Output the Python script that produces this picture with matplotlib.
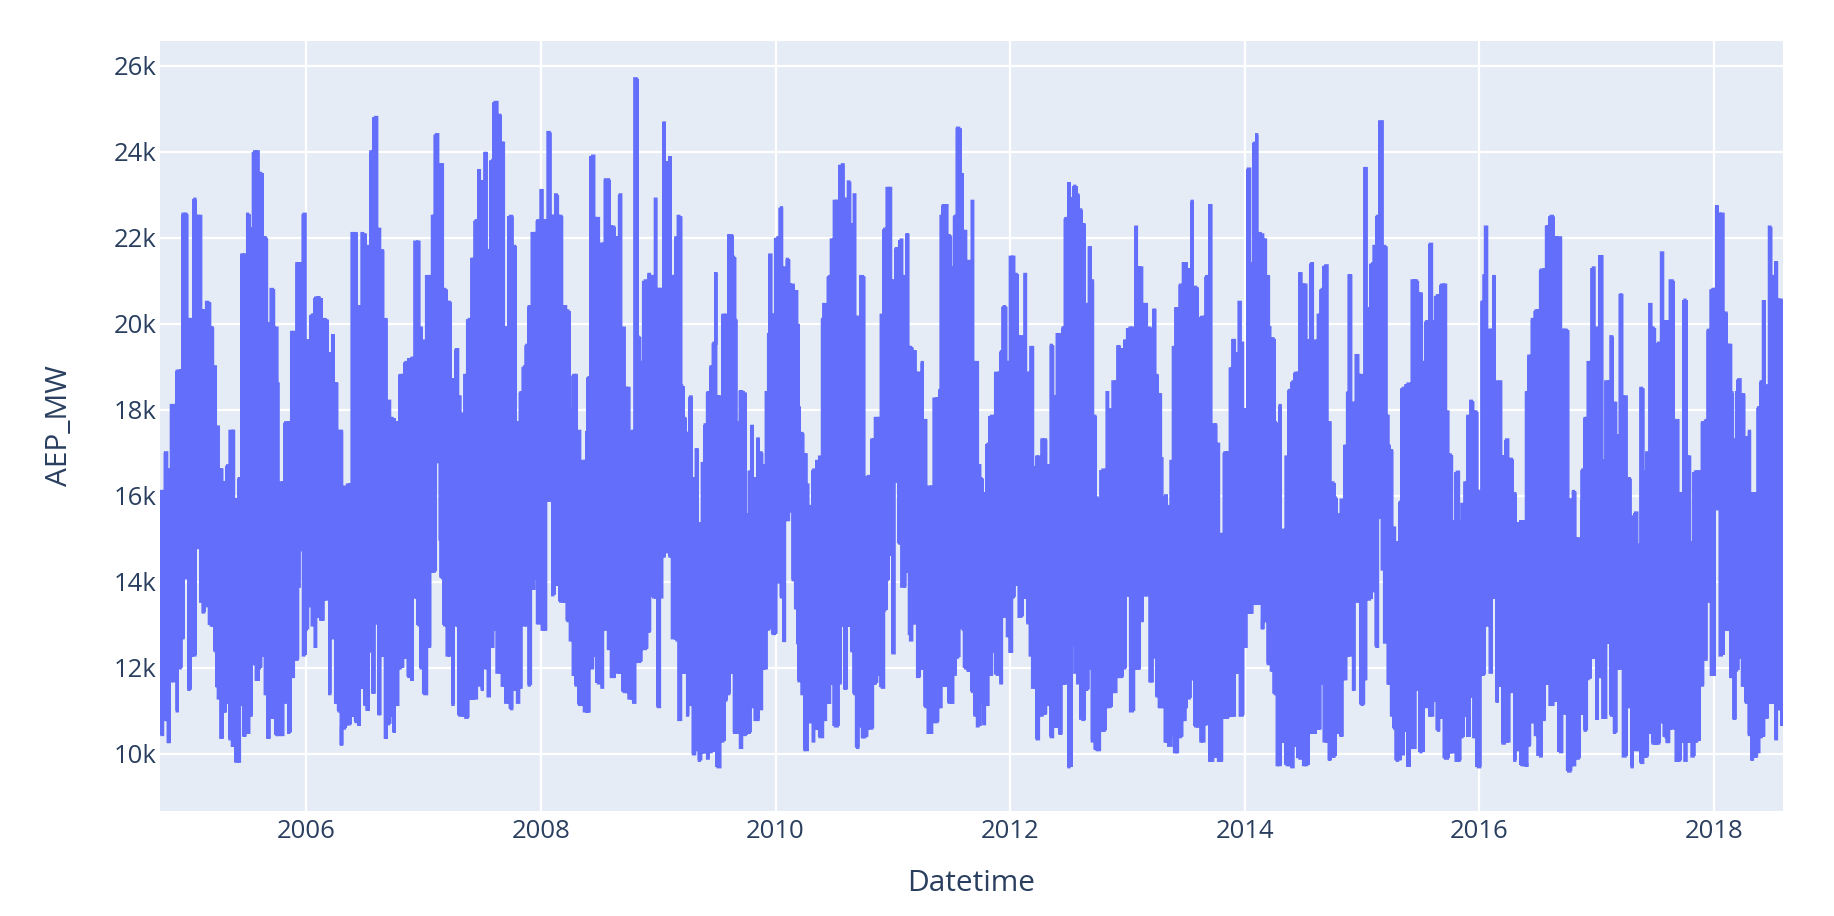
import numpy as np
import matplotlib
matplotlib.use("Agg")
import matplotlib.pyplot as plt
import matplotlib.dates as mdates
from matplotlib.ticker import FuncFormatter

plt.rcParams['font.family'] = ['Open Sans', 'DejaVu Sans']
plt.rcParams['path.simplify'] = False

# Upper edge of the hourly load: (decimal year, thousand MW)
top_2004_2008 = [(2004.77,16.1),(2004.80,17.0),(2004.83,16.6),(2004.87,18.1),(2004.92,18.9),(2004.97,22.55),(2005.01,20.1),(2005.05,22.9),(2005.08,22.5),(2005.12,20.3),(2005.16,20.5),(2005.20,19.9),(2005.22,19.0),(2005.24,17.6),(2005.27,16.6),(2005.30,16.3),(2005.33,16.7),(2005.37,17.5),(2005.40,15.9),(2005.43,16.4),(2005.46,21.6),(2005.50,22.55),(2005.53,22.2),(2005.57,24.0),(2005.61,23.5),(2005.65,22.0),(2005.67,20.0),(2005.71,20.8),(2005.74,19.9),(2005.76,18.6),(2005.79,16.3),(2005.82,17.7),(2005.86,17.7),(2005.89,19.8),(2005.94,21.4),(2005.98,22.55),(2006.01,19.6),(2006.05,20.2),(2006.10,20.6),(2006.16,20.1),(2006.20,19.3),(2006.23,19.75),(2006.25,18.6),(2006.28,17.5),(2006.33,16.2),(2006.36,16.25),(2006.42,22.1),(2006.45,20.4),(2006.48,22.1),(2006.52,21.8),(2006.55,24.0),(2006.59,24.8),(2006.62,22.2),(2006.65,21.7),(2006.68,20.1),(2006.71,18.2),(2006.73,17.8),(2006.77,17.7),(2006.82,18.8),(2006.85,19.1),(2006.90,19.2),(2006.94,21.9),(2006.98,19.9),(2007.01,19.6),(2007.04,21.1),(2007.08,22.5),(2007.11,24.4),(2007.14,23.7),(2007.18,20.8),(2007.22,20.5),(2007.25,18.7),(2007.28,19.4),(2007.31,18.3),(2007.34,17.9),(2007.36,18.8),(2007.39,20.1),(2007.42,21.5),(2007.44,22.4),(2007.47,23.6),(2007.50,23.3),(2007.53,24.0),(2007.56,21.7),(2007.59,23.8),(2007.61,25.15),(2007.65,24.85),(2007.67,24.2),(2007.70,19.9),(2007.74,22.5),(2007.78,21.8),(2007.81,17.7),(2007.83,18.4),(2007.86,19.0),(2007.88,19.5),(2007.91,20.4),(2007.94,22.1),(2007.97,22.4),(2008.01,23.1),(2008.04,22.4),(2008.07,24.45),(2008.10,22.5),(2008.13,23.0),(2008.16,22.5),(2008.20,20.4)]
top_2008_2011 = [(2008.23,20.3),(2008.26,18.0),(2008.29,18.8),(2008.33,17.5),(2008.37,16.8),(2008.39,17.5),(2008.41,18.75),(2008.44,23.9),(2008.47,22.45),(2008.52,21.85),(2008.55,23.35),(2008.61,22.25),(2008.65,22.0),(2008.68,23.0),(2008.71,19.9),(2008.74,18.5),(2008.77,17.35),(2008.78,17.5),(2008.81,25.7),(2008.84,19.7),(2008.86,19.1),(2008.89,21.0),(2008.92,21.15),(2008.95,21.1),(2008.98,22.9),(2009.01,20.8),(2009.05,24.7),(2009.07,23.75),(2009.10,23.9),(2009.13,21.1),(2009.15,22.0),(2009.17,22.5),(2009.21,18.55),(2009.23,17.8),(2009.25,17.45),(2009.27,18.3),(2009.30,16.4),(2009.33,17.1),(2009.35,15.35),(2009.38,16.75),(2009.40,17.65),(2009.42,18.4),(2009.45,19.0),(2009.47,19.55),(2009.49,21.2),(2009.51,18.3),(2009.56,20.2),(2009.62,22.05),(2009.64,21.55),(2009.66,20.1),(2009.68,17.7),(2009.71,18.45),(2009.74,18.4),(2009.76,15.55),(2009.78,16.55),(2009.80,17.65),(2009.83,16.4),(2009.85,17.35),(2009.88,17.0),(2009.90,16.7),(2009.92,18.4),(2009.94,19.75),(2009.95,21.6),(2009.98,20.2),(2010.02,22.0),(2010.04,22.7),(2010.07,21.3),(2010.10,21.5),(2010.15,20.9),(2010.18,20.75),(2010.19,20.0),(2010.20,18.05),(2010.23,17.45),(2010.25,16.95),(2010.27,16.25),(2010.30,15.75),(2010.32,16.6),(2010.35,16.8),(2010.38,16.9),(2010.40,20.1),(2010.41,20.45),(2010.44,20.2),(2010.46,21.1),(2010.48,21.95),(2010.51,22.85),(2010.53,22.85),(2010.57,23.7),(2010.59,22.9),(2010.62,23.3),(2010.64,22.3),(2010.67,23.0),(2010.70,20.15),(2010.74,21.1),(2010.76,15.75),(2010.79,16.45),(2010.84,17.3),(2010.86,17.8),(2010.92,20.2),(2010.93,22.2),(2010.96,23.15),(2011.00,21.0),(2011.01,20.85),(2011.04,21.75),(2011.07,21.95),(2011.10,21.1),(2011.12,22.1),(2011.15,19.45),(2011.18,19.35),(2011.21,18.85),(2011.25,19.1),(2011.28,17.75),(2011.29,16.2),(2011.33,16.2),(2011.37,18.25),(2011.40,18.45),(2011.41,22.5),(2011.44,22.75),(2011.48,22.05),(2011.51,21.3),(2011.53,22.5),(2011.56,24.55),(2011.59,23.5),(2011.61,22.15),(2011.64,21.45),(2011.68,22.85)]
top_2011_2015 = [(2011.71,19.1),(2011.74,16.7),(2011.75,16.4),(2011.78,16.05),(2011.81,17.2),(2011.84,17.85),(2011.86,17.5),(2011.89,18.85),(2011.92,19.35),(2011.95,20.4),(2011.98,19.1),(2012.01,21.55),(2012.05,21.15),(2012.09,19.7),(2012.13,21.15),(2012.16,18.85),(2012.19,19.45),(2012.21,16.65),(2012.24,16.9),(2012.29,17.3),(2012.32,16.7),(2012.35,19.5),(2012.38,18.3),(2012.41,19.75),(2012.45,19.9),(2012.47,22.45),(2012.50,23.3),(2012.52,22.9),(2012.55,23.2),(2012.58,23.0),(2012.60,22.65),(2012.63,22.3),(2012.64,19.8),(2012.66,20.45),(2012.68,21.8),(2012.70,21.0),(2012.72,17.85),(2012.74,15.95),(2012.76,15.9),(2012.79,16.6),(2012.81,15.9),(2012.83,18.4),(2012.86,18.0),(2012.89,18.65),(2012.92,19.5),(2012.95,19.4),(2012.98,19.6),(2013.02,19.9),(2013.04,19.9),(2013.07,22.25),(2013.10,21.3),(2013.14,20.45),(2013.19,19.9),(2013.21,19.7),(2013.23,20.35),(2013.25,18.8),(2013.27,18.35),(2013.29,16.9),(2013.30,15.95),(2013.32,16.0),(2013.35,15.75),(2013.37,16.8),(2013.39,19.45),(2013.42,20.35),(2013.46,20.9),(2013.49,21.4),(2013.52,21.25),(2013.55,22.85),(2013.58,20.85),(2013.61,19.2),(2013.63,20.15),(2013.65,20.15),(2013.67,21.1),(2013.70,22.75),(2013.74,17.65),(2013.77,17.2),(2013.80,15.1),(2013.83,17.0),(2013.86,17.0),(2013.88,18.95),(2013.91,19.65),(2013.94,19.3),(2013.96,20.5),(2013.98,19.55),(2014.00,18.0),(2014.03,23.6),(2014.05,21.4),(2014.08,24.2),(2014.10,24.4),(2014.13,22.1),(2014.17,21.95),(2014.20,21.1),(2014.21,19.95),(2014.24,19.65),(2014.27,17.7),(2014.28,15.9),(2014.30,18.1),(2014.33,15.2),(2014.36,16.9),(2014.38,18.45),(2014.41,18.65),(2014.44,18.85),(2014.47,21.2),(2014.51,20.9),(2014.54,19.6),(2014.57,21.4),(2014.60,19.6),(2014.64,20.2),(2014.66,20.8),(2014.69,21.35),(2014.72,17.7),(2014.75,16.3),(2014.77,15.95),(2014.80,15.55),(2014.82,15.9),(2014.85,17.15),(2014.88,18.4),(2014.89,21.15),(2014.93,18.15),(2014.96,19.3),(2014.99,18.8),(2015.01,18.35),(2015.03,23.65),(2015.06,20.35),(2015.09,21.4),(2015.11,21.8),(2015.13,22.5),(2015.15,24.7),(2015.19,21.8),(2015.22,17.85)]
top_2015_2018 = [(2015.23,17.15),(2015.25,17.05),(2015.27,15.25),(2015.29,14.9),(2015.32,15.85),(2015.35,18.5),(2015.39,18.6),(2015.46,21.0),(2015.49,20.7),(2015.52,19.1),(2015.55,20.05),(2015.58,21.85),(2015.61,20.05),(2015.64,20.65),(2015.69,20.9),(2015.73,17.95),(2015.76,16.95),(2015.78,15.4),(2015.81,16.55),(2015.83,15.4),(2015.86,15.8),(2015.88,16.3),(2015.90,17.85),(2015.93,18.2),(2015.97,17.95),(2016.00,16.1),(2016.02,20.5),(2016.04,21.15),(2016.06,22.25),(2016.09,19.85),(2016.12,21.1),(2016.15,18.65),(2016.18,18.65),(2016.20,16.9),(2016.23,17.3),(2016.27,16.85),(2016.30,16.05),(2016.33,15.35),(2016.37,15.4),(2016.40,18.4),(2016.42,19.25),(2016.46,20.1),(2016.49,20.3),(2016.54,21.25),(2016.57,22.25),(2016.62,22.5),(2016.66,22.0),(2016.74,19.85),(2016.77,15.9),(2016.81,16.1),(2016.84,15.0),(2016.87,15.85),(2016.88,16.6),(2016.90,17.8),(2016.94,19.1),(2016.97,21.3),(2017.00,19.9),(2017.04,21.6),(2017.06,16.8),(2017.09,18.65),(2017.12,19.7),(2017.15,18.15),(2017.18,17.4),(2017.21,20.7),(2017.24,18.3),(2017.28,16.4),(2017.30,15.5),(2017.33,15.6),(2017.36,14.85),(2017.39,18.5),(2017.41,16.55),(2017.43,17.0),(2017.46,20.45),(2017.48,19.9),(2017.50,19.45),(2017.52,19.55),(2017.56,21.65),(2017.59,20.05),(2017.64,21.0),(2017.68,17.75),(2017.71,16.05),(2017.75,20.55),(2017.78,16.9),(2017.81,14.9),(2017.84,16.55),(2017.87,16.55),(2017.90,17.7),(2017.93,17.75),(2017.95,19.85),(2018.00,20.8),(2018.02,22.75),(2018.06,22.55),(2018.10,20.25),(2018.13,19.5),(2018.15,18.4),(2018.17,17.3),(2018.19,18.4),(2018.21,18.7),(2018.24,18.35),(2018.27,17.35),(2018.30,17.5),(2018.32,16.05),(2018.35,16.05),(2018.38,18.05),(2018.40,18.65),(2018.42,20.55),(2018.45,18.55),(2018.47,22.25),(2018.50,21.1),(2018.53,21.45),(2018.57,20.55),(2018.59,20.35)]

# Lower edge of the hourly load: (decimal year, thousand MW)
low_2004_2008 = [(2004.77,10.45),(2004.81,10.8),(2004.83,10.25),(2004.87,11.7),(2004.90,11.0),(2004.93,12.0),(2004.95,12.7),(2004.98,14.1),(2005.00,11.5),(2005.04,12.3),(2005.07,14.8),(2005.10,13.55),(2005.13,13.3),(2005.16,13.45),(2005.19,13.0),(2005.22,12.4),(2005.24,11.55),(2005.26,11.3),(2005.28,10.35),(2005.31,11.0),(2005.33,11.2),(2005.35,10.35),(2005.38,10.2),(2005.41,9.83),(2005.45,11.15),(2005.47,10.4),(2005.51,10.5),(2005.53,10.9),(2005.56,12.1),(2005.59,11.7),(2005.61,12.0),(2005.64,12.3),(2005.66,11.4),(2005.68,10.35),(2005.72,10.85),(2005.75,10.45),(2005.79,10.45),(2005.82,11.2),(2005.85,10.5),(2005.88,11.8),(2005.92,12.2),(2005.94,13.9),(2005.96,14.75),(2005.99,12.3),(2006.01,12.9),(2006.04,13.45),(2006.06,13.0),(2006.08,12.5),(2006.11,13.2),(2006.14,13.1),(2006.16,13.6),(2006.20,11.4),(2006.23,12.7),(2006.26,11.2),(2006.28,11.0),(2006.30,10.2),(2006.33,10.6),(2006.37,10.7),(2006.39,10.9),(2006.42,10.75),(2006.45,10.65),(2006.48,11.55),(2006.50,11.15),(2006.52,11.0),(2006.55,12.4),(2006.57,11.4),(2006.59,13.05),(2006.62,10.9),(2006.65,12.3),(2006.68,10.35),(2006.71,10.7),(2006.73,10.9),(2006.75,10.5),(2006.78,11.15),(2006.80,12.0),(2006.84,12.25),(2006.87,11.8),(2006.90,11.7),(2006.94,13.65),(2006.96,13.0),(2006.98,12.0),(2007.01,11.4),(2007.05,12.5),(2007.09,14.25),(2007.12,16.8),(2007.14,15.0),(2007.16,14.1),(2007.19,13.0),(2007.21,12.3),(2007.25,11.15),(2007.29,13.0),(2007.31,10.9),(2007.34,10.9),(2007.37,10.85),(2007.41,11.3),(2007.44,11.3),(2007.47,11.6),(2007.50,11.5),(2007.53,12.0),(2007.56,11.35),(2007.59,12.5),(2007.61,12.9),(2007.64,11.9),(2007.68,11.6),(2007.71,11.2),(2007.75,11.05),(2007.78,11.5),(2007.81,11.2),(2007.83,11.55),(2007.86,13.0),(2007.90,11.6),(2007.93,13.85),(2007.95,14.1),(2007.98,13.05),(2008.03,12.9),(2008.06,15.9),(2008.11,13.7),(2008.14,13.95),(2008.17,13.55)]
low_2008_2011 = [(2008.21,13.55),(2008.24,13.1),(2008.26,12.65),(2008.28,11.85),(2008.30,11.6),(2008.33,11.15),(2008.40,11.0),(2008.44,12.0),(2008.46,12.3),(2008.49,11.65),(2008.52,11.55),(2008.55,12.9),(2008.58,12.45),(2008.62,11.8),(2008.67,11.9),(2008.73,11.45),(2008.77,11.3),(2008.79,11.2),(2008.82,12.15),(2008.89,12.45),(2008.92,12.85),(2008.94,14.05),(2008.96,13.65),(2009.00,11.1),(2009.03,13.65),(2009.05,14.6),(2009.07,14.7),(2009.10,14.6),(2009.12,12.7),(2009.14,13.95),(2009.16,12.65),(2009.19,10.8),(2009.21,11.9),(2009.25,10.9),(2009.28,11.15),(2009.31,10.0),(2009.33,10.1),(2009.36,9.85),(2009.39,10.05),(2009.42,9.9),(2009.45,10.05),(2009.49,11.15),(2009.51,9.7),(2009.55,10.3),(2009.58,11.25),(2009.60,11.4),(2009.63,11.9),(2009.65,10.5),(2009.68,10.5),(2009.71,10.15),(2009.74,10.45),(2009.77,10.5),(2009.79,11.1),(2009.83,10.8),(2009.88,11.05),(2009.91,12.0),(2009.94,12.9),(2009.96,13.3),(2009.99,12.8),(2010.02,14.0),(2010.03,16.9),(2010.05,13.65),(2010.07,12.6),(2010.11,15.45),(2010.13,15.65),(2010.15,14.05),(2010.17,13.4),(2010.19,12.55),(2010.20,11.7),(2010.23,11.4),(2010.26,10.1),(2010.29,10.75),(2010.32,10.3),(2010.36,10.6),(2010.38,10.4),(2010.42,10.8),(2010.45,11.2),(2010.47,11.65),(2010.51,10.65),(2010.55,11.65),(2010.57,13.0),(2010.59,11.5),(2010.63,13.0),(2010.65,12.4),(2010.67,11.4),(2010.69,10.15),(2010.72,10.65),(2010.75,10.4),(2010.82,10.6),(2010.85,11.65),(2010.88,11.85),(2010.91,11.55),(2010.94,13.35),(2010.96,14.05),(2010.98,14.65),(2011.01,12.35),(2011.03,16.35),(2011.06,14.9),(2011.09,13.9),(2011.12,14.25),(2011.14,12.8),(2011.16,12.65),(2011.19,13.05),(2011.22,11.8),(2011.25,12.0),(2011.28,11.1),(2011.32,10.5),(2011.35,10.75),(2011.38,10.75),(2011.41,11.1),(2011.43,11.6),(2011.46,11.6),(2011.49,11.2),(2011.53,11.85),(2011.55,12.25),(2011.57,13.6),(2011.59,12.9),(2011.62,12.0),(2011.65,11.95),(2011.68,11.45),(2011.70,10.9),(2011.72,10.65)]
low_2011_2015 = [(2011.76,11.2),(2011.78,10.7),(2011.81,11.15),(2011.84,11.85),(2011.85,12.4),(2011.89,11.85),(2011.92,11.65),(2011.94,13.2),(2011.96,13.45),(2011.99,12.75),(2012.01,12.35),(2012.03,13.65),(2012.06,13.95),(2012.09,13.2),(2012.13,13.65),(2012.15,13.05),(2012.17,12.3),(2012.19,11.55),(2012.23,10.35),(2012.27,10.9),(2012.30,10.95),(2012.33,11.15),(2012.36,10.4),(2012.39,10.65),(2012.43,10.45),(2012.46,11.65),(2012.50,9.7),(2012.54,12.55),(2012.56,11.9),(2012.58,11.65),(2012.62,10.8),(2012.65,11.5),(2012.67,12.0),(2012.70,10.3),(2012.75,10.1),(2012.80,10.55),(2012.83,11.1),(2012.89,11.45),(2012.94,11.8),(2012.98,12.0),(2013.00,13.7),(2013.04,11.0),(2013.09,12.0),(2013.12,13.1),(2013.16,13.7),(2013.20,11.7),(2013.23,12.25),(2013.25,11.35),(2013.28,11.1),(2013.30,11.1),(2013.33,10.3),(2013.35,10.2),(2013.39,10.45),(2013.41,10.05),(2013.45,10.4),(2013.48,10.8),(2013.50,11.1),(2013.53,11.3),(2013.55,11.75),(2013.59,10.65),(2013.64,10.3),(2013.66,10.7),(2013.71,9.85),(2013.75,9.95),(2013.79,9.85),(2013.84,10.85),(2013.89,10.9),(2013.93,11.9),(2013.98,10.9),(2014.01,12.5),(2014.04,13.3),(2014.06,13.3),(2014.09,13.5),(2014.13,13.5),(2014.15,12.9),(2014.17,13.1),(2014.20,12.1),(2014.23,11.95),(2014.26,11.4),(2014.29,9.75),(2014.33,10.3),(2014.37,9.75),(2014.41,9.7),(2014.43,10.2),(2014.47,9.9),(2014.52,9.75),(2014.56,10.5),(2014.60,10.5),(2014.63,10.6),(2014.66,11.65),(2014.69,10.3),(2014.72,9.85),(2014.76,9.95),(2014.79,10.5),(2014.82,10.4),(2014.86,11.75),(2014.89,12.3),(2014.93,11.5),(2014.96,13.55),(2015.00,11.15),(2015.02,11.75),(2015.06,13.6),(2015.10,13.8),(2015.12,12.5),(2015.15,15.5),(2015.17,14.3),(2015.19,12.6),(2015.22,11.65)]
low_2015_2018 = [(2015.25,10.9),(2015.27,10.6),(2015.30,9.85),(2015.34,10.0),(2015.37,10.55),(2015.39,9.7),(2015.44,10.15),(2015.47,11.5),(2015.50,10.05),(2015.54,11.1),(2015.56,11.65),(2015.59,10.9),(2015.62,11.25),(2015.65,10.55),(2015.67,10.85),(2015.71,9.9),(2015.75,10.05),(2015.82,9.85),(2015.86,10.4),(2015.89,10.9),(2015.91,10.4),(2015.94,11.35),(2015.96,10.4),(2015.99,9.7),(2016.03,11.85),(2016.06,13.0),(2016.10,11.9),(2016.12,13.65),(2016.15,11.2),(2016.18,11.6),(2016.21,10.25),(2016.24,10.3),(2016.27,11.45),(2016.30,9.85),(2016.34,10.1),(2016.36,9.75),(2016.40,9.7),(2016.42,10.2),(2016.45,10.75),(2016.48,10.45),(2016.52,9.95),(2016.55,10.8),(2016.58,11.65),(2016.61,11.15),(2016.65,11.25),(2016.69,10.05),(2016.72,10.95),(2016.76,9.6),(2016.80,9.75),(2016.84,9.9),(2016.88,10.95),(2016.91,10.55),(2016.94,11.75),(2016.96,12.25),(2017.00,10.8),(2017.02,11.8),(2017.07,10.85),(2017.10,12.6),(2017.13,10.9),(2017.16,10.5),(2017.19,12.0),(2017.24,9.95),(2017.27,11.1),(2017.30,9.7),(2017.34,10.1),(2017.38,9.8),(2017.42,9.95),(2017.46,10.5),(2017.49,10.25),(2017.53,10.25),(2017.56,10.75),(2017.59,10.4),(2017.61,10.25),(2017.64,10.6),(2017.69,9.85),(2017.74,10.3),(2017.76,9.85),(2017.79,10.3),(2017.82,9.95),(2017.85,10.3),(2017.90,11.6),(2017.93,12.2),(2017.95,13.55),(2017.99,11.85),(2018.02,15.7),(2018.06,12.3),(2018.12,12.9),(2018.14,11.8),(2018.17,10.8),(2018.19,11.95),(2018.22,12.25),(2018.25,11.6),(2018.27,11.2),(2018.30,10.45),(2018.32,9.85),(2018.36,9.95),(2018.38,10.05),(2018.40,10.4),(2018.44,10.85),(2018.48,11.2),(2018.53,10.35),(2018.56,11.05),(2018.59,10.65)]

y_ticks = [10000, 12000, 14000, 16000, 18000, 20000, 22000, 24000, 26000]
x_label = "Datetime"
y_label = "AEP_MW"

top = np.array(top_2004_2008 + top_2008_2011 + top_2011_2015 + top_2015_2018)
low = np.array(low_2004_2008 + low_2008_2011 + low_2011_2015 + low_2015_2018)


def hold(years, pts):
    edges = (pts[1:, 0] + pts[:-1, 0]) / 2
    return pts[np.searchsorted(edges, years), 1] * 1000


# A stroke for each reading, plus enough strokes between them to close the band
times = np.union1d(np.union1d(top[:, 0], low[:, 0]), np.arange(2004.75, 2018.595, 0.025))
hi = hold(times, top)
lo = np.minimum(hold(times, low), hi)

xs, ys = [], []
for i, t in enumerate(times):
    rising = i % 2 == 0
    xs += [t, t]
    ys += [lo[i], hi[i]] if rising else [hi[i], lo[i]]
    if i < len(times) - 1:
        # flat step to the next stroke, so the edges stay blocky as in the reference
        c = min(hi[i], hi[i + 1]) if rising else max(lo[i], lo[i + 1])
        xs += [t, times[i + 1]]
        ys += [c, c]
dates = (np.array(xs) - 1970) * 365.25

fig = plt.figure(figsize=(18.34, 9.16), dpi=100, facecolor='white')
ax = fig.add_axes([159.5 / 1834, 1 - 811 / 916, 1623.5 / 1834, 770 / 916], facecolor='#E5ECF6')
ax.plot(dates, ys, color='#636EFA', lw=2.4, solid_joinstyle='miter', solid_capstyle='butt', zorder=3)

ax.set_xlim(mdates.date2num(np.datetime64('2004-10-01')), mdates.date2num(np.datetime64('2018-08-03')))
ax.set_ylim(8670, 26580)
ax.xaxis.set_major_locator(mdates.YearLocator(2))
ax.xaxis.set_major_formatter(mdates.DateFormatter('%Y'))
ax.set_yticks(y_ticks)
ax.yaxis.set_major_formatter(FuncFormatter(lambda v, _: f"{v / 1000:.0f}k"))
ax.grid(True, color='white', lw=1.6, zorder=1)
ax.set_axisbelow(True)
for s in ax.spines.values():
    s.set_visible(False)
ax.tick_params(length=0, labelsize=18.5, labelcolor='#2a3f5f')
ax.tick_params(axis='y', pad=2)
ax.tick_params(axis='x', pad=6)
ax.set_xlabel(x_label, fontsize=21.5, color='#2a3f5f')
ax.set_ylabel(y_label, fontsize=21.5, color='#2a3f5f')
ax.xaxis.set_label_coords(0.5, -0.094)
ax.yaxis.set_label_coords(-0.0614, 0.5)
ax.xaxis.label.set_va('center')
ax.yaxis.label.set_va('center')

fig.savefig('out.png', dpi=100)
